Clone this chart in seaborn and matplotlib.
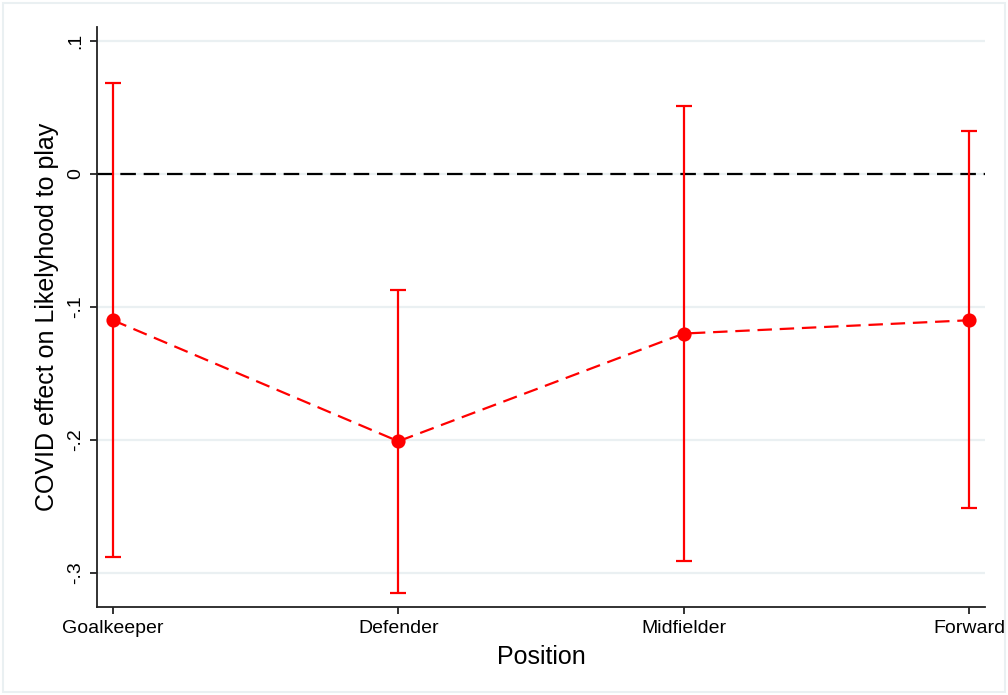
import matplotlib
matplotlib.use("Agg")
import matplotlib.pyplot as plt
from matplotlib.patches import Rectangle
import pandas as pd
import seaborn as sns

positions = ["Goalkeeper", "Defender", "Midfielder", "Forward"]
estimate = [-0.110, -0.201, -0.120, -0.110]
ci_low = [-0.288, -0.315, -0.291, -0.251]
ci_high = [0.068, -0.087, 0.051, 0.032]
ytick_values = [0.1, 0.0, -0.1, -0.2, -0.3]
ytick_labels = [".1", "0", "-.1", "-.2", "-.3"]

sns.set_theme(style="white")
plt.rcParams["font.family"] = ["Liberation Sans", "DejaVu Sans"]
plt.rcParams["text.color"] = "black"
plt.rcParams["axes.labelcolor"] = "black"

df = pd.DataFrame({"Position": positions, "coef": estimate})

fig = plt.figure(figsize=(10.08, 6.95), dpi=100)
ax = fig.add_axes([0.0962, 0.1266, 0.881, 0.8346])

grid_col = "#EAF0F2"
for v in ytick_values:
    ax.axhline(v, color=grid_col, lw=1.6, zorder=0)
ax.axhline(0, color="black", lw=1.6, ls=(0, (7, 3.5)), zorder=1)

red = "#FF0000"
ax.errorbar(range(len(positions)), estimate,
            yerr=[[e - l for e, l in zip(estimate, ci_low)],
                  [h - e for e, h in zip(estimate, ci_high)]],
            fmt="none", ecolor=red, elinewidth=1.6, capsize=6, capthick=1.6,
            zorder=2)
sns.pointplot(data=df, x="Position", y="coef", color=red,
              linestyles=(0, (6.5, 3.5)), markers="o", errorbar=None, ax=ax,
              markersize=9, linewidth=1.6, zorder=3)

ax.set_xlim(-0.056, 3.056)
ax.set_ylim(-0.3256, 0.1105)
ax.set_yticks(ytick_values)
ax.set_yticklabels(ytick_labels, rotation=90, va="center", fontsize=14)
ax.set_xticks(range(len(positions)))
ax.set_xticklabels(positions, fontsize=14)
ax.set_xlabel("Position", fontsize=18, labelpad=6)
ax.set_ylabel("COVID effect on Likelyhood to play", fontsize=18, labelpad=6)

for s in ["top", "right"]:
    ax.spines[s].set_visible(False)
for s in ["left", "bottom"]:
    ax.spines[s].set_color("#222222")
    ax.spines[s].set_linewidth(1.3)
ax.tick_params(axis="both", which="both", direction="out", length=5,
               width=1.3, color="#222222", left=True, bottom=True,
               labelcolor="black", pad=4)

fig.patches.append(Rectangle((0.003, 0.004), 0.994, 0.992, transform=fig.transFigure,
                             fill=False, edgecolor=grid_col, lw=1.5))

fig.savefig("out.png", dpi=100, facecolor="white")
